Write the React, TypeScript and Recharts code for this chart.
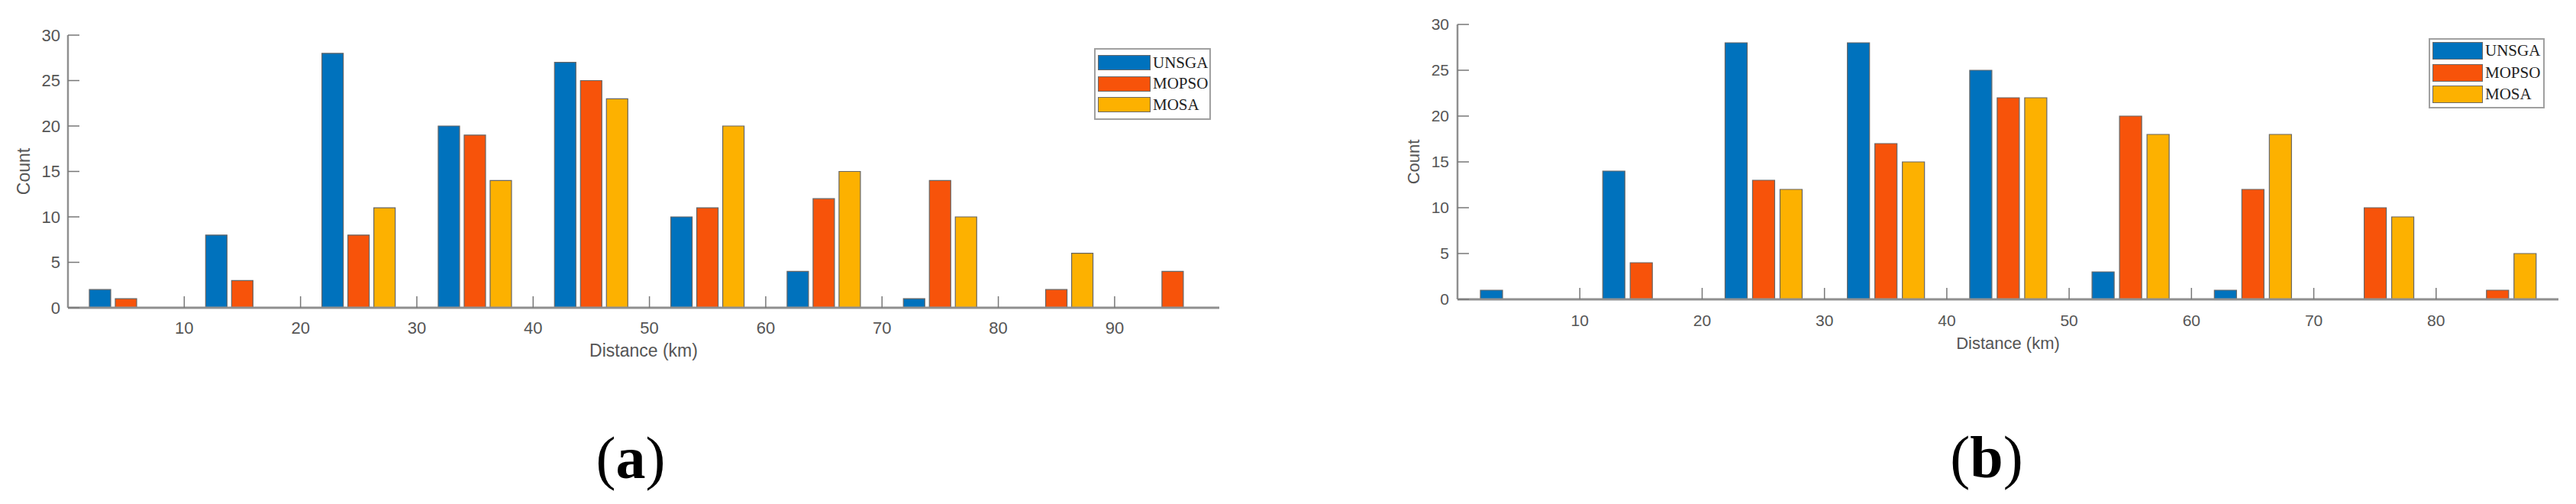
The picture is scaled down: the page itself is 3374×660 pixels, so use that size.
import { Bar, BarChart, Legend, XAxis, YAxis } from "recharts"

// bin centres (km) and counts per algorithm
const binsA = [5, 15, 25, 35, 45, 55, 65, 75, 85, 95]
const unsgaA = [2, 8, 28, 20, 27, 10, 4, 1, 0, 0]
const mopsoA = [1, 3, 8, 19, 25, 11, 12, 14, 2, 4]
const mosaA = [0, 0, 11, 14, 23, 20, 15, 10, 6, 0]

const binsB = [5, 15, 25, 35, 45, 55, 65, 75, 85]
const unsgaB = [1, 14, 28, 28, 25, 3, 1, 0, 0]
const mopsoB = [0, 4, 13, 17, 22, 20, 12, 10, 1]
const mosaB = [0, 0, 12, 15, 22, 18, 18, 9, 5]

const xTicksA = [10, 20, 30, 40, 50, 60, 70, 80, 90]
const xTicksB = [10, 20, 30, 40, 50, 60, 70, 80]
const yTicks = [0, 5, 10, 15, 20, 25, 30]

const series = ["UNSGA", "MOPSO", "MOSA"]
const colors = ["#0072BD", "#F7530A", "#FDB100"]

const axisGray = "#8f8f8f"
const textGray = "#555"
const sans = "'Liberation Sans', Arial, sans-serif"
const serif = "'Liberation Serif', 'Times New Roman', serif"

const makeRows = (bins: number[], a: number[], b: number[], c: number[]) =>
    bins.map((x, i) => ({ x, UNSGA: a[i], MOPSO: b[i], MOSA: c[i] }))

// legend keeps the series order (Recharts sorts the payload by name otherwise)
const LegendBox = ({ payload, swW, swH, pitch, top0 }: any) => {
    const items = [...(payload || [])].sort((p: any, q: any) => series.indexOf(p.value) - series.indexOf(q.value))
    return (
        <div style={{ position: "relative", width: "100%", height: "100%", boxSizing: "border-box",
            border: "2.5px solid #a0a0a0", background: "#fff" }}>
            {items.map((p: any, i: number) => (
                <div key={p.value} style={{ position: "absolute", left: 3, top: top0 + i * pitch, height: swH,
                    display: "flex", alignItems: "center" }}>
                    <div style={{ width: swW, height: swH, background: p.color, boxSizing: "border-box",
                        border: "1.5px solid #6a6a6a" }} />
                    <span style={{ marginLeft: 3, fontFamily: serif, fontSize: 21, color: "#222" }}>{p.value}</span>
                </div>
            ))}
        </div>
    )
}

const Panel = (props: any) => {
    const { rows, xMax, xTicks, width, height, margin, barSize, barGap, xTickMargin, yTickMargin,
        titleOffset, legendPos, legendItem, fontSize } = props
    const tickStyle = { fill: textGray, fontSize, fontFamily: sans }
    return (
        <BarChart width={width} height={height} data={rows} margin={margin} barSize={barSize} barGap={barGap}>
            <XAxis dataKey="x" type="number" domain={[0, xMax]} ticks={xTicks} interval={0} height={30}
                tick={tickStyle} tickSize={-15} tickMargin={xTickMargin}
                axisLine={{ stroke: axisGray, strokeWidth: 3 }} tickLine={{ stroke: "#777", strokeWidth: 1.5 }}
                label={{ value: "Distance (km)", position: "bottom", offset: titleOffset,
                    style: { fill: textGray, fontSize: fontSize + 1, fontFamily: sans } }} />
            <XAxis xAxisId="top" orientation="top" type="number" domain={[0, xMax]} ticks={xTicks} interval={0}
                height={0} tick={false} tickSize={-15}
                axisLine={{ stroke: axisGray, strokeWidth: 2.5 }} tickLine={{ stroke: "#777", strokeWidth: 1.5 }} />
            <YAxis type="number" domain={[0, 30]} ticks={yTicks} interval={0} width={60}
                tick={tickStyle} tickSize={-15} tickMargin={yTickMargin}
                axisLine={{ stroke: axisGray, strokeWidth: 2.5 }} tickLine={{ stroke: "#777", strokeWidth: 1.5 }}
                label={{ value: "Count", angle: -90, position: "insideLeft", offset: 2,
                    style: { textAnchor: "middle", fill: textGray, fontSize: fontSize + 1, fontFamily: sans } }} />
            <YAxis yAxisId="right" orientation="right" type="number" domain={[0, 30]} ticks={yTicks} interval={0}
                width={0} tick={false} tickSize={-15}
                axisLine={{ stroke: axisGray, strokeWidth: 2.5 }} tickLine={{ stroke: "#777", strokeWidth: 1.5 }} />
            <Legend layout="vertical" align="center" verticalAlign="middle"
                wrapperStyle={{ position: "absolute", left: legendPos.left, top: legendPos.top,
                    width: legendPos.width, height: legendPos.height }}
                content={(p: any) => <LegendBox payload={p.payload} {...legendItem} />} />
            {series.map((s, i) => (
                <Bar key={s} dataKey={s} name={s} fill={colors[i]} stroke="#666" strokeWidth={1.2}
                    isAnimationActive={false} />
            ))}
        </BarChart>
    )
}

const Caption = ({ letter, cx, cy }: any) => (
    <div style={{ position: "absolute", left: cx - 100, top: cy - 40, width: 200, textAlign: "center",
        fontFamily: serif, fontSize: 78, lineHeight: "80px", color: "#000" }}>
        (<b>{letter}</b>)
    </div>
)

export default function App() {
    return (
        <div style={{ position: "absolute", left: 0, top: 0, width: 3374, height: 660, background: "#fff",
            overflow: "hidden" }}>
            <div style={{ position: "absolute", left: 0, top: 0 }}>
                <Panel rows={makeRows(binsA, unsgaA, mopsoA, mosaA)} xMax={99} xTicks={xTicksA}
                    width={1700} height={500} margin={{ top: 46, left: 29, right: 103, bottom: 67 }}
                    barSize={28} barGap={6} xTickMargin={33} yTickMargin={25} titleOffset={18} fontSize={22}
                    legendPos={{ left: 1433, top: 63, width: 153, height: 94 }}
                    legendItem={{ swW: 69, swH: 20, pitch: 27.5, top0: 7 }} />
            </div>
            <div style={{ position: "absolute", left: 1800, top: 0 }}>
                <Panel rows={makeRows(binsB, unsgaB, mopsoB, mosaB)} xMax={90} xTicks={xTicksB}
                    width={1574} height={500} margin={{ top: 32, left: 49, right: 23, bottom: 78 }}
                    barSize={29} barGap={7} xTickMargin={35} yTickMargin={26} titleOffset={19} fontSize={21}
                    legendPos={{ left: 1381, top: 50, width: 152, height: 92 }}
                    legendItem={{ swW: 66, swH: 23, pitch: 28.5, top0: 3 }} />
            </div>
            <Caption letter="a" cx={826} cy={600} />
            <Caption letter="b" cx={2602} cy={599} />
        </div>
    )
}
